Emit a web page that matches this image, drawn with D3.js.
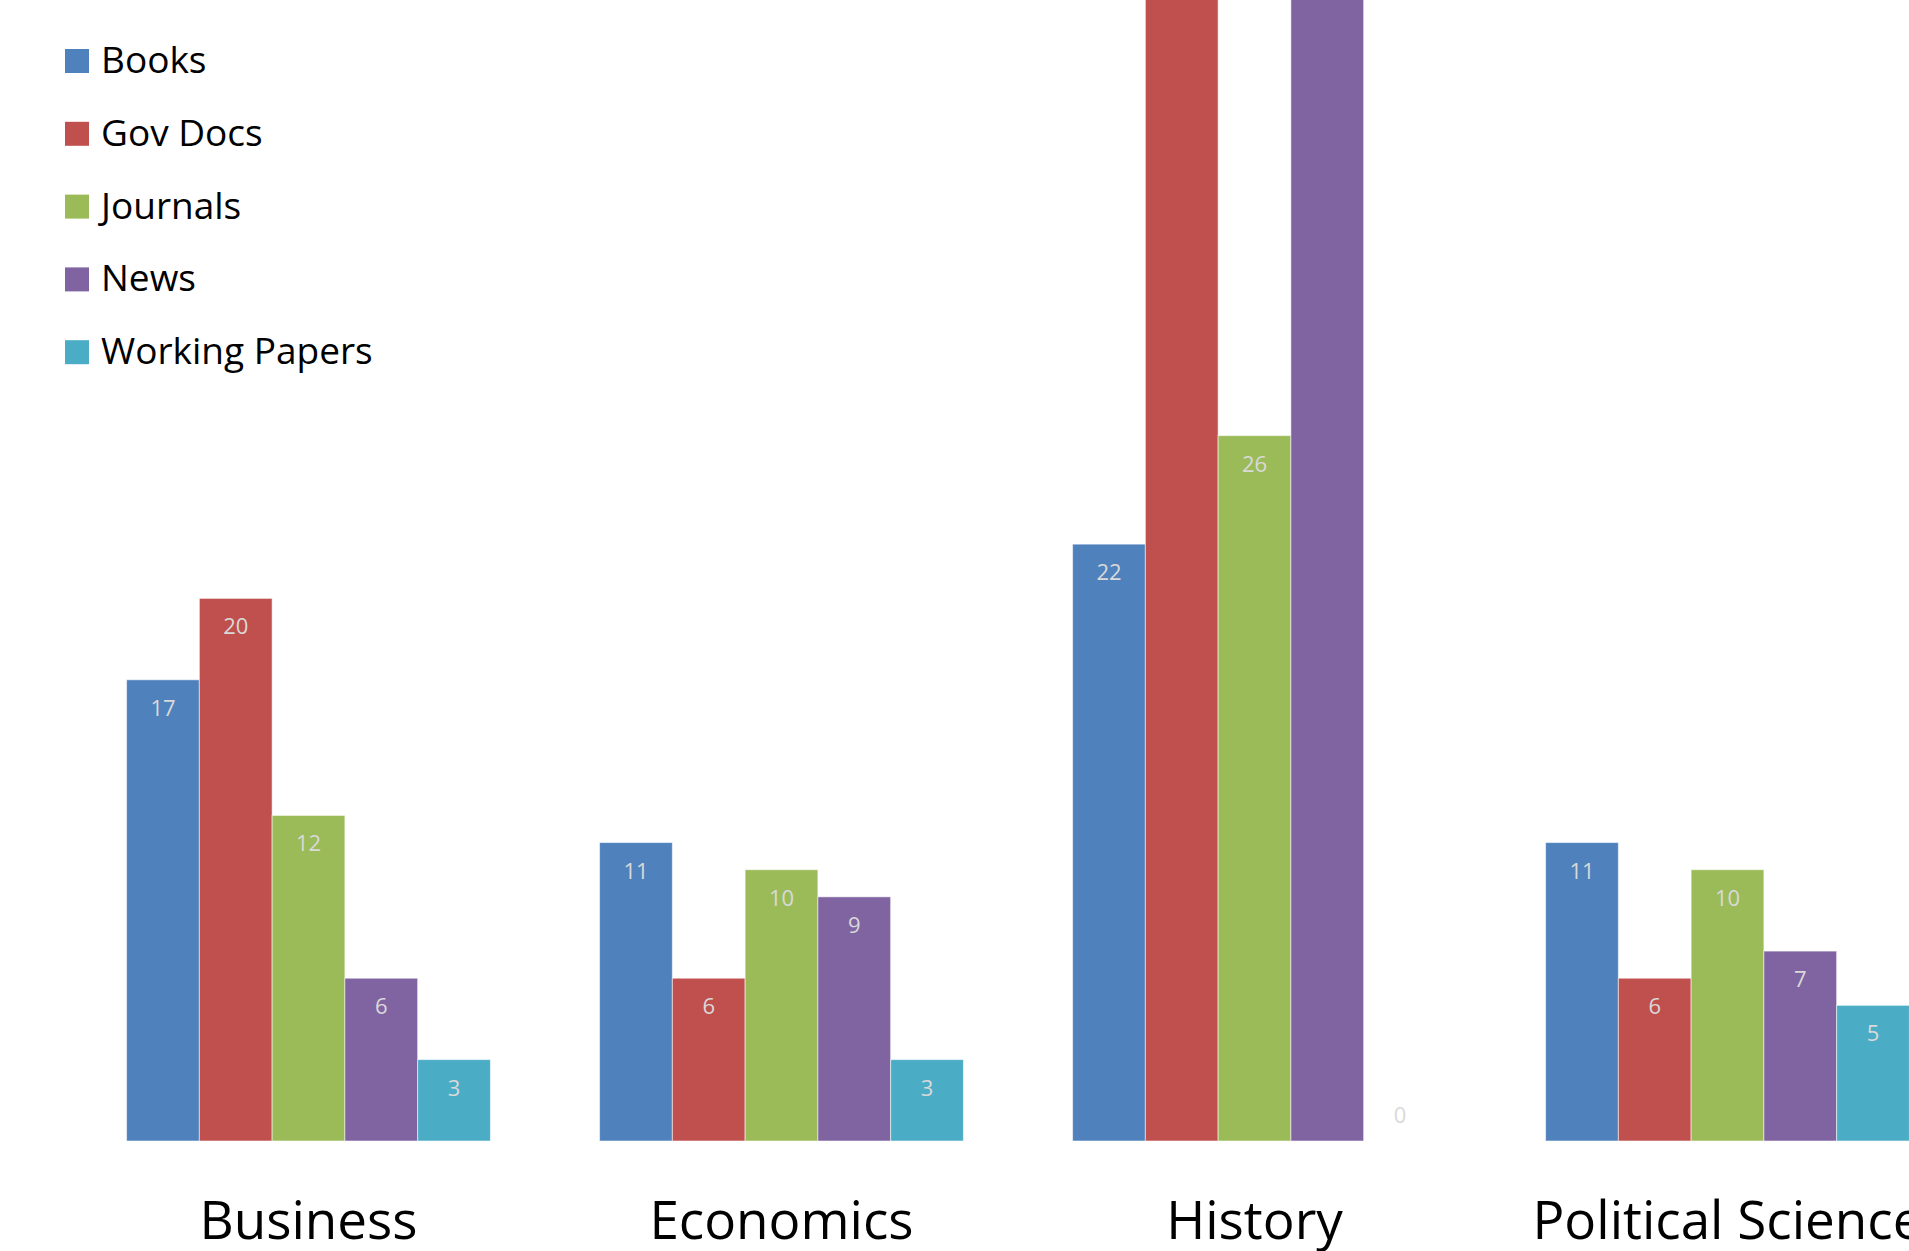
<!DOCTYPE html>
<html>
<head>
<meta charset="utf-8">
<script src="https://cdn.jsdelivr.net/npm/d3@7"></script>
<style>
  html, body { margin: 0; padding: 0; background: #fff; overflow: hidden; }
  svg { display: block; font-family: "Open Sans", sans-serif; }
</style>
</head>
<body>
<svg id="chart" width="1909" height="1251"></svg>
<script>
const categories = ["Business", "Economics", "History", "Political Science"];
const series = ["Books", "Gov Docs", "Journals", "News", "Working Papers"];
const books = [17, 11, 22, 11];
const govDocs = [20, 6, 46, 6];
const journals = [12, 10, 26, 10];
const news = [6, 9, 44, 7];
const workingPapers = [3, 3, 0, 5];

const values = [books, govDocs, journals, news, workingPapers];
const colors = ["#4f81bd", "#c0504d", "#9bbb59", "#8064a2", "#4bacc6"];

const svg = d3.select("#chart");
const baseline = 1141;
const unit = 27.13;

const x0 = d3.scaleBand()
  .domain(categories)
  .range([72, 1964])
  .paddingInner(0.2308)
  .paddingOuter(0.1154);

const x1 = d3.scaleBand()
  .domain(series)
  .range([0, x0.bandwidth()]);

const y = d3.scaleLinear()
  .domain([0, 50])
  .range([baseline, baseline - unit * 50]);

const rows = [];
categories.forEach((c, i) => {
  series.forEach((s, j) => {
    rows.push({ cat: c, key: s, value: values[j][i], color: colors[j] });
  });
});

const groups = svg.append("g");

groups.selectAll("rect")
  .data(rows)
  .enter()
  .append("rect")
  .attr("x", d => x0(d.cat) + x1(d.key))
  .attr("y", d => y(d.value))
  .attr("width", x1.bandwidth())
  .attr("height", d => y(0) - y(d.value))
  .attr("fill", d => d.color)
  .attr("stroke", "rgba(255,255,255,0.55)")
  .attr("stroke-width", 1);

// labels of bars taller than the view sit above the top edge, like the reference
groups.selectAll(".val")
  .data(rows)
  .enter()
  .append("text")
  .attr("class", "val")
  .attr("x", d => x0(d.cat) + x1(d.key) + x1.bandwidth() / 2)
  .attr("y", d => d.value === 0 ? y(0) - 18 : y(d.value) + 36)
  .attr("text-anchor", "middle")
  .style("font-size", "22px")
  .style("fill", "#d9d9d9")
  .text(d => d.value);

svg.append("g").selectAll("text")
  .data(categories)
  .enter()
  .append("text")
  .attr("x", d => x0(d) + x0.bandwidth() / 2)
  .attr("y", 1239)
  .attr("text-anchor", "middle")
  .style("font-size", "53px")
  .style("fill", "#000")
  .text(d => d);

// legend
const legend = svg.append("g").attr("transform", "translate(65, 49)");
const items = legend.selectAll("g")
  .data(series)
  .enter()
  .append("g")
  .attr("transform", (d, i) => `translate(0, ${i * 72.8})`);

items.append("rect")
  .attr("width", 24)
  .attr("height", 24)
  .attr("fill", (d, i) => colors[i]);

items.append("text")
  .attr("x", 36)
  .attr("y", 24)
  .style("font-size", "37px")
  .style("fill", "#000")
  .text(d => d);
</script>
</body>
</html>
